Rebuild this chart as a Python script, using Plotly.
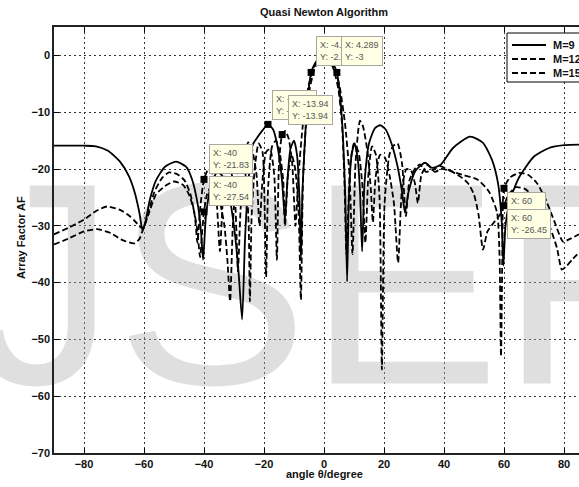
import plotly.graph_objects as go

# ---------------- data ----------------
series_names = ["M=9", "M=12", "M=15"]

angle_m9 = [-90, -85, -80, -76, -72, -68, -65, -63, -61.5, -60.5, -59.5, -58, -56, -53, -49.3, -46, -44, -42, -41,
            -40.3, -39.3, -37.5, -35.5, -33.5, -31.5, -29.8, -28.5, -27.3, -26.3, -25, -23.8, -22.3, -20.5, -18.67,
            -17, -15.5, -14, -13, -12.2, -11.2, -10, -9, -8.2, -7.7, -7.2, -6.2, -5.2, -4.289, -3, -1.5, 0, 1.5, 3,
            4.289, 5.3, 6.3, 7.1, 7.7, 8.3, 9.2, 10.2, 11.2, 12, 12.7, 13.5, 15, 17, 18.7, 20.5, 22.5, 24.5, 26, 27,
            28.2, 30.5, 33.7, 36, 39, 43, 48.7, 53, 56, 58, 59.2, 59.8, 60.5, 62, 65, 70, 75, 80, 85]
af_m9 = [-15.9, -15.9, -15.9, -16.0, -16.8, -18.7, -21.3, -24.3, -27.8, -30.8, -29.2, -25.3, -22.0, -19.6, -18.7,
         -19.6, -21.8, -26.5, -31, -36, -28, -22.5, -20.5, -21.5, -25, -31, -38, -46.5, -32, -21, -15.8, -14.5,
         -13.2, -12.15, -13, -16, -22, -29, -22, -16.5, -15, -17.5, -25, -36, -24, -13.5, -6.5, -2.994, -1.4,
         -0.35, 0, -0.35, -1.4, -3, -6.8, -14, -25, -39.8, -25, -17.5, -15.5, -18, -24, -34.5, -22.5, -15.5,
         -12.8, -12.3, -13, -15.5, -19.5, -24, -27.7, -24, -20.3, -18.9, -19.8, -19.2, -16.3, -14.3, -15.4,
         -18.4, -22.5, -29, -37, -30, -25.5, -21.5, -17.8, -16.3, -15.8, -15.7]

angle_m12 = [-90, -85, -80, -76, -72.3, -68, -65, -63, -61, -60, -58.5, -56.5, -54, -51.7, -49, -46.5, -44.5, -43,
             -42.2, -41.2, -40, -38.5, -37, -35.8, -34.7, -33.6, -32.3, -31, -29.6, -28.7, -27.8, -26.5, -25.3, -24,
             -22.5, -21.5, -20.5, -19.3, -18, -16.6, -15.7, -15, -13.94, -12.9, -11.8, -10.6, -9.5, -8.5, -7, -5.2,
             -3.6, -2, 0, 2, 3.6, 5.2, 7, 8.5, 9.5, 10.5, 11.5, 12, 13, 14.5, 15.6, 16.3, 17.2, 18.7, 20.3, 21.8,
             23.3, 24.7, 26, 27.5, 29, 30.3, 31.3, 32.5, 34.5, 37, 39, 42, 45.3, 48, 50, 51.5, 53, 54.5, 56.5, 58.7,
             60, 61.5, 64, 67, 70, 73, 75.5, 77.7, 79.3, 81, 83, 85]
af_m12 = [-31.5, -30.3, -28.9, -27.4, -26.6, -27.2, -28.2, -29.2, -30.3, -30.2, -27.5, -24, -21.6, -20.6, -20.9,
          -22, -24.5, -28.5, -33, -26.5, -21.83, -20, -21, -25.5, -34.5, -24.5, -20, -20.5, -26, -38, -27, -19,
          -15.3, -16.5, -21, -30, -22, -17, -16.5, -21, -36, -19, -13.94, -13.3, -14.6, -19, -30, -21, -12, -5.5,
          -2.3, -0.7, 0, -0.7, -2.3, -5.5, -12, -21, -35, -19, -12.8, -11.5, -12.5, -17, -23.5, -29.4, -21.5,
          -17.5, -18, -21, -26, -36.5, -23.5, -20, -20.3, -22.5, -26, -21, -19.3, -20.5, -20, -20.3, -21.3,
          -22.5, -24.5, -28, -34.2, -31, -29.5, -28, -26.45, -24.5, -23.2, -23.5, -25, -27.6, -30.5, -34, -37.7,
          -37, -35.8, -34.7]

angle_m15 = [-90, -85, -80, -75.7, -71, -67.7, -63.3, -61.5, -60.7, -58.5, -56, -53, -50, -47, -45, -43.5, -42.3,
             -41.3, -40.6, -40, -39, -37.5, -36, -34.6, -33.2, -32.2, -31.3, -30.4, -29.3, -28, -26.8, -25.8, -25.1,
             -24.7, -24.1, -23, -21.8, -20.5, -19.9, -19.3, -18.6, -17.3, -16, -14.8, -13.6, -13, -12, -10.8, -9.6,
             -8.5, -7.7, -7, -6, -4.8, -3.3, -1.8, 0, 1.8, 3.3, 4.8, 6, 6.8, 7.5, 8.8, 10, 11.5, 12.8, 13.8, 14.8,
             16, 17.3, 18.5, 19.3, 20.2, 21.8, 23, 24.5, 26, 27.3, 28.5, 30.5, 32, 34, 36, 38.7, 42, 46, 51, 55,
             57.7, 58.5, 59, 59.5, 60, 62, 65, 68, 71, 74, 77, 79.7, 82, 85]
af_m15 = [-33.3, -32.2, -31, -30.6, -31.3, -32.4, -33.1, -32.3, -31.2, -28, -24.5, -23, -22.2, -22.8, -24.5, -27,
          -30.5, -35.5, -31, -27.54, -24.5, -23, -23.5, -26, -30, -36, -43.3, -30, -22, -18.5, -19, -23, -30,
          -43.3, -28, -19.5, -15.5, -17, -24, -39, -23, -16, -15, -17, -22, -30, -21, -17.5, -20, -27, -43, -22,
          -12, -6, -2.6, -0.8, 0, -0.8, -2.6, -6, -12, -22, -35, -19, -15.5, -17, -23, -33, -21, -16, -17.5, -25,
          -55.3, -26, -17.5, -16, -15.5, -19, -28.3, -22, -19.8, -19.2, -20.5, -20.2, -19.5, -20.3, -21, -21.8,
          -24, -27.7, -35, -53, -33, -23.4, -21.5, -20.7, -21, -22.5, -25.5, -29.5, -32.8, -32.3, -31.5]

# data cursor readouts
tip_x = [-40, -40, -18.67, -13.94, -4.289, 4.289, 60, 60]
tip_y = [-21.83, -27.54, -12.15, -13.94, -2.994, -3, -23.4, -26.45]

x_ticks = [-80, -60, -40, -20, 0, 20, 40, 60, 80]
y_ticks = [-70, -60, -50, -40, -30, -20, -10, 0]

# ---------------- layout geometry (pixels) ----------------
W, H = 579, 487
ML, MT, MB = 54, 27, 34
PW = W - ML
PH = H - MT - MB


def paper_x(px):
    return (px - ML) / PW


def paper_y(py):
    return (H - MB - py) / PH


FONT = "Arial, Liberation Sans, Helvetica, sans-serif"
INK = "#111111"

fig = go.Figure()

# faint background lettering
fig.add_trace(go.Scatter(
    x=[-8], y=[-45.1], mode="text", text=["IJSER"],
    textfont=dict(family=FONT, size=288, color="rgba(170,170,170,0.38)"),
    cliponaxis=False, hoverinfo="skip", showlegend=False,
))

dashes = [None, "6px,3px", "6px,3px"]
curves = [(angle_m9, af_m9), (angle_m12, af_m12), (angle_m15, af_m15)]
for name, (xs, ys), dash in zip(series_names, curves, dashes):
    fig.add_trace(go.Scatter(
        x=xs, y=ys, mode="lines", name=name, showlegend=False,
        line=dict(color="black", width=1.8, dash=dash or "solid", shape="spline", smoothing=0.6),
    ))

# data cursor markers
fig.add_trace(go.Scatter(
    x=tip_x, y=tip_y, mode="markers", showlegend=False, hoverinfo="skip",
    marker=dict(symbol="square", size=7, color="black", line=dict(width=0)),
))

# data cursor readout boxes (pixel offsets from their markers)
tip_offsets = [(5, 35), (5, 36), (4, 34), (6, 40), (5, 36), (4, 36), (3, -4), (3, -3)]
annotations = []
for tx, ty, (dx, dy) in zip(tip_x, tip_y, tip_offsets):
    annotations.append(dict(
        x=tx, y=ty, xref="x", yref="y", showarrow=False,
        text=f"X: {tx:g}<br>Y: {ty:g}", align="left",
        xanchor="left", yanchor="top", xshift=dx, yshift=dy,
        font=dict(family=FONT, size=9, color="#555555"),
        bgcolor="#ffffe3", bordercolor="#a8a8a0", borderwidth=1, borderpad=3,
    ))

# axis titles
annotations.append(dict(
    x=paper_x(324), y=paper_y(474), xref="paper", yref="paper", showarrow=False,
    text="angle θ/degree", xanchor="center", yanchor="middle",
    font=dict(family=FONT, size=11, color=INK, weight="bold"),
))
annotations.append(dict(
    x=paper_x(21), y=paper_y(238), xref="paper", yref="paper", showarrow=False,
    text="Array Factor AF", textangle=-90, xanchor="center", yanchor="middle",
    font=dict(family=FONT, size=11, color=INK, weight="bold"),
))

# legend box
shapes = [dict(
    type="rect", xref="paper", yref="paper",
    x0=paper_x(507), x1=paper_x(640), y0=paper_y(82), y1=paper_y(33),
    fillcolor="white", line=dict(color="black", width=1), layer="above",
)]
legend_rows = [45, 59, 73]
for name, dash, row in zip(series_names, dashes, legend_rows):
    shapes.append(dict(
        type="line", xref="paper", yref="paper",
        x0=paper_x(512), x1=paper_x(546), y0=paper_y(row), y1=paper_y(row),
        line=dict(color="black", width=2, dash=dash or "solid"), layer="above",
    ))
    annotations.append(dict(
        x=paper_x(551), y=paper_y(row), xref="paper", yref="paper", showarrow=False,
        text=name, xanchor="left", yanchor="middle",
        font=dict(family=FONT, size=11, color=INK, weight="bold"),
    ))

axis_common = dict(
    ticks="inside", ticklen=5, tickwidth=1, tickcolor="black",
    showline=True, linecolor="#222222", linewidth=1.5,
    showgrid=True, gridcolor="#333333", gridwidth=1, griddash="2px,3px",
    zeroline=False, tickfont=dict(family=FONT, size=11, color=INK, weight="bold"),
)

fig.update_xaxes(range=[-90, 85], tickvals=x_ticks, mirror="ticks", **axis_common)
fig.update_yaxes(range=[-70, 5], tickvals=y_ticks, mirror=False, **axis_common)

fig.update_layout(
    width=W, height=H,
    margin=dict(l=ML, r=0, t=MT, b=MB, pad=0, autoexpand=False),
    paper_bgcolor="white", plot_bgcolor="white",
    title=dict(text="Quasi Newton Algorithm", x=paper_x(324), xref="paper", xanchor="center",
               y=1 - 12 / H, yref="container", yanchor="middle",
               font=dict(family=FONT, size=11, color=INK, weight="bold")),
    annotations=annotations, shapes=shapes, showlegend=False,
)

fig.write_html("out.html")
